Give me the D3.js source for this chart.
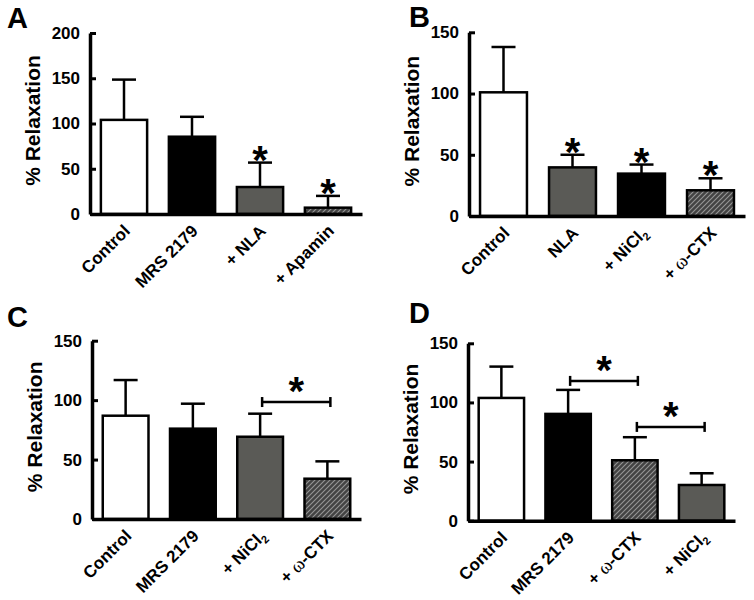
<!DOCTYPE html>
<html>
<head>
<meta charset="utf-8">
<script src="https://cdn.jsdelivr.net/npm/d3@7"></script>
<style>
  body { margin: 0; background: #fff; }
  text { font-family: "Liberation Sans", Arial, sans-serif; font-weight: bold; fill: #000; }
</style>
</head>
<body>
<svg id="chart" width="754" height="600"></svg>
<script>
// ---- data ----
// panel A
var catsA  = ["Control", "MRS 2179", "+ NLA", "+ Apamin"],
    meanA  = [104, 85.4, 29.8, 7],
    semA   = [44.5, 22, 27, 13],
    starA  = [0, 0, 1, 1],
    ticksA = [0, 50, 100, 150, 200];
// panel B
var catsB  = ["Control", "NLA", "+ NiCl_2", "+ ω-CTX"],
    meanB  = [101, 39.7, 34.6, 21],
    semB   = [37, 10.3, 7.4, 9.8],
    starB  = [0, 1, 1, 1],
    ticksB = [0, 50, 100, 150];
// panel C
var catsC    = ["Control", "MRS 2179", "+ NiCl_2", "+ ω-CTX"],
    meanC    = [86.9, 76, 69.2, 33.9],
    semC     = [30, 21, 19.4, 14.6],
    bracketC = [[2, 3, 98.4]],          // from bar, to bar, level
    ticksC   = [0, 50, 100, 150];
// panel D
var catsD    = ["Control", "MRS 2179", "+ ω-CTX", "+ NiCl_2"],
    meanD    = [103.8, 90.3, 51.1, 30.2],
    semD     = [26.5, 20.3, 19.5, 9.9],
    bracketD = [[1, 2, 118.2], [2, 3, 79.3]],
    ticksD   = [0, 50, 100, 150];

// ---- layout ----
var panels = [
  {letter: "A", lx: 7,   ly: 28,  x0: 90,  x1: 362, top: 33,    bot: 214,   max: 200,
   cats: catsA, mean: meanA, sem: semA, stars: starA, brackets: [], ticks: ticksA,
   fills: ["white", "black", "gray", "hatch"]},
  {letter: "B", lx: 409, ly: 27,  x0: 469, x1: 745, top: 32.3,  bot: 216,   max: 150,
   cats: catsB, mean: meanB, sem: semB, stars: starB, brackets: [], ticks: ticksB,
   fills: ["white", "gray", "black", "hatch"]},
  {letter: "C", lx: 7,   ly: 327, x0: 92,  x1: 361, top: 340.7, bot: 519,   max: 150,
   cats: catsC, mean: meanC, sem: semC, stars: [0, 0, 0, 0], brackets: bracketC, ticks: ticksC,
   fills: ["white", "black", "gray", "hatch"]},
  {letter: "D", lx: 409, ly: 323, x0: 468, x1: 735, top: 343.3, bot: 520.7, max: 150,
   cats: catsD, mean: meanD, sem: semD, stars: [0, 0, 0, 0], brackets: bracketD, ticks: ticksD,
   fills: ["white", "black", "hatch", "gray"]}
];

var fillColor = {white: "#fff", black: "#000", gray: "#5a5a56", hatch: "url(#hatch)"};

var svg = d3.select("#chart");

// diagonal hatch for the w-CTX / apamin bars
var pat = svg.append("defs").append("pattern")
    .attr("id", "hatch")
    .attr("patternUnits", "userSpaceOnUse")
    .attr("width", 5).attr("height", 5);
pat.append("rect").attr("width", 5).attr("height", 5).attr("fill", "#434343");
pat.append("path")
    .attr("d", "M-1,1 l2,-2 M0,5 l5,-5 M4,6 l2,-2")
    .attr("stroke", "#959595")
    .attr("stroke-width", 1.1);

// label with subscripts ("_2") and a serif omega
function richLabel(t, s) {
  s.split(/(ω|_\d)/).forEach(function(p) {
    if (!p) return;
    if (p === "ω") {
      t.append("tspan")
          .style("font-family", "'Liberation Serif', 'Times New Roman', serif")
          .style("font-weight", "normal")
          .attr("font-size", 19)
          .text("ω");
    } else if (p[0] === "_") {
      t.append("tspan").attr("font-size", 11).attr("dy", 4).text(p.slice(1));
    } else {
      t.append("tspan").text(p);
    }
  });
}

panels.forEach(function(p) {
  var x = d3.scaleBand()
      .domain(p.cats)
      .range([p.x0, p.x1])
      .paddingInner(0.32)
      .paddingOuter(0.16);

  var y = d3.scaleLinear()
      .domain([0, p.max])
      .range([p.bot, p.top]);

  var g = svg.append("g");

  // panel letter
  g.append("text")
      .attr("x", p.lx).attr("y", p.ly)
      .attr("font-size", 29)
      .text(p.letter);

  // y title
  g.append("text")
      .attr("transform", "translate(" + (p.x0 - 50) + "," + ((p.top + p.bot) / 2 - 3) + ") rotate(-90)")
      .attr("text-anchor", "middle")
      .attr("font-size", 21)
      .text("% Relaxation");

  // error bars (upper half only)
  var eb = g.selectAll(".err")
    .data(p.cats)
    .enter().append("g")
      .attr("class", "err")
      .attr("stroke", "#000")
      .attr("stroke-width", 2.5);
  eb.append("line")
      .attr("x1", function(d) { return x(d) + x.bandwidth() / 2; })
      .attr("x2", function(d) { return x(d) + x.bandwidth() / 2; })
      .attr("y1", function(d, i) { return y(p.mean[i]); })
      .attr("y2", function(d, i) { return y(p.mean[i] + p.sem[i]); });
  eb.append("line")
      .attr("x1", function(d) { return x(d) + x.bandwidth() / 2 - 12; })
      .attr("x2", function(d) { return x(d) + x.bandwidth() / 2 + 12; })
      .attr("y1", function(d, i) { return y(p.mean[i] + p.sem[i]); })
      .attr("y2", function(d, i) { return y(p.mean[i] + p.sem[i]); });

  // bars
  g.selectAll(".bar")
    .data(p.cats)
    .enter().append("rect")
      .attr("class", "bar")
      .attr("x", function(d) { return x(d); })
      .attr("width", x.bandwidth())
      .attr("y", function(d, i) { return y(p.mean[i]); })
      .attr("height", function(d, i) { return y(0) - y(p.mean[i]); })
      .attr("fill", function(d, i) { return fillColor[p.fills[i]]; })
      .attr("stroke", "#000")
      .attr("stroke-width", 2.5);

  // stars over single bars
  g.selectAll(".star")
    .data(p.cats.filter(function(d, i) { return p.stars[i]; }))
    .enter().append("text")
      .attr("class", "star")
      .attr("text-anchor", "middle")
      .attr("font-size", 40)
      .attr("x", function(d) { return x(d) + x.bandwidth() / 2; })
      .attr("y", function(d) {
        var i = p.cats.indexOf(d);
        return y(p.mean[i] + p.sem[i]) + 11;
      })
      .text("*");

  // comparison brackets
  p.brackets.forEach(function(b) {
    var xa = x(p.cats[b[0]]) + x.bandwidth() / 2 + 2,
        xb = x(p.cats[b[1]]) + x.bandwidth() / 2 + 3,
        yb = y(b[2]);
    var bg = g.append("g").attr("stroke", "#000").attr("stroke-width", 2.5);
    bg.append("line").attr("x1", xa).attr("x2", xb).attr("y1", yb).attr("y2", yb);
    bg.append("line").attr("x1", xa).attr("x2", xa).attr("y1", yb - 5).attr("y2", yb + 5);
    bg.append("line").attr("x1", xb).attr("x2", xb).attr("y1", yb - 5).attr("y2", yb + 5);
    g.append("text")
        .attr("text-anchor", "middle")
        .attr("font-size", 40)
        .attr("x", (xa + xb) / 2)
        .attr("y", yb + 3)
        .text("*");
  });

  // y axis, ticks pointing inward
  var ya = g.append("g")
      .attr("transform", "translate(" + p.x0 + ",0)")
      .call(d3.axisLeft(y).tickValues(p.ticks).tickSize(-6).tickSizeOuter(0).tickPadding(10));
  ya.select(".domain").attr("stroke-width", 3.5);
  ya.selectAll(".tick line").attr("stroke-width", 3);
  ya.selectAll(".tick text")
      .attr("font-size", 17)
      .attr("font-family", null);

  // x axis
  var xa = g.append("g")
      .attr("transform", "translate(0," + p.bot + ")")
      .call(d3.axisBottom(x).tickSize(0).tickSizeOuter(0).tickFormat(""));
  xa.select(".domain").attr("stroke-width", 3.5);
  xa.selectAll(".tick text").remove();

  g.selectAll(".xlab")
    .data(p.cats)
    .enter().append("text")
      .attr("class", "xlab")
      .attr("font-size", 17)
      .attr("text-anchor", "end")
      .attr("transform", function(d) {
        return "translate(" + (x(d) + x.bandwidth() / 2 + 7) + "," + (p.bot + 18) + ") rotate(-45)";
      })
      .each(function(d) { richLabel(d3.select(this), d); });
});
</script>
</body>
</html>
